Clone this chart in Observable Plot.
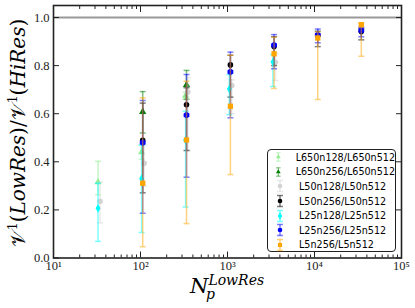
<!DOCTYPE html>
<html><head><meta charset="utf-8">
<script src="https://cdn.jsdelivr.net/npm/d3@7"></script>
<script src="https://cdn.jsdelivr.net/npm/@observablehq/plot@0.6"></script>
<style>
body{margin:0;background:#fff;}
#wrap{position:relative;width:415px;height:308px;}
#legend{position:absolute;left:267px;top:149px;width:127px;height:101px;border:1.5px solid #222;border-radius:4px;background:#fff;font-family:"DejaVu Sans",sans-serif;font-size:9.6px;color:#000;padding-top:0px;}
.row{display:flex;align-items:center;height:14.6px;}
.row svg{margin-left:5px;margin-right:12px;}
</style></head><body><div id="wrap"></div>
<script>
// ---- data ----
const seriesNames = ["L650n128/L650n512","L650n256/L650n512","L50n128/L50n512","L50n256/L50n512","L25n128/L25n512","L25n256/L25n512","L5n256/L5n512"];
const seriesColors = ["#90ee90","#008000","#d3d3d3","#000000","#00ffff","#0000ff","#ffa500"];
const seriesSymbols = ["triangle","triangle","circle","circle","diamond","hexagon","square"];

const np_L650n128 = [32.5, 103, 330];
const v_L650n128  = [0.315, 0.44, 0.675];
const lo_L650n128 = [0.263, 0.41, 0.66];
const hi_L650n128 = [0.402, 0.47, 0.69];

const np_L650n256 = [106, 338];
const v_L650n256  = [0.608, 0.72];
const lo_L650n256 = [0.52, 0.66];
const hi_L650n256 = [0.692, 0.78];

const np_L50n128 = [34.2, 110, 350, 1120, 3550];
const v_L50n128  = [0.236, 0.394, 0.69, 0.717, 0.814];
const lo_L50n128 = [0.146, 0.30, 0.447, 0.60, 0.738];
const hi_L50n128 = [0.315, 0.47, 0.75, 0.741, 0.85];

const np_L50n256 = [106, 338, 1080, 3430, 10900, 34500];
const v_L50n256  = [0.489, 0.637, 0.803, 0.88, 0.925, 0.942];
const lo_L50n256 = [0.271, 0.447, 0.669, 0.80, 0.879, 0.907];
const hi_L50n256 = [0.644, 0.708, 0.843, 0.92, 0.943, 0.955];

const np_L25n128 = [32.5, 103, 330, 1050, 3330];
const v_L25n128  = [0.207, 0.33, 0.49, 0.703, 0.815];
const lo_L25n128 = [0.069, 0.106, 0.212, 0.596, 0.713];
const hi_L25n128 = [0.311, 0.47, 0.61, 0.763, 0.846];

const np_L25n256 = [106, 338, 1080, 3430, 10900, 34500];
const v_L25n256  = [0.48, 0.594, 0.774, 0.885, 0.928, 0.946];
const lo_L25n256 = [0.186, 0.336, 0.583, 0.787, 0.895, 0.92];
const hi_L25n256 = [0.655, 0.763, 0.856, 0.929, 0.952, 0.96];

const np_L5n256 = [106, 338, 1080, 3430, 10900, 34500];
const v_L5n256  = [0.311, 0.491, 0.631, 0.849, 0.915, 0.97];
const lo_L5n256 = [0.047, 0.143, 0.347, 0.705, 0.659, 0.839];
const hi_L5n256 = [0.666, 0.735, 0.843, 0.918, 0.94, 0.978];

const xMajorTicks = [10, 100, 1000, 10000, 100000];
const xTickLabels = ["10¹","10²","10³","10⁴","10⁵"];
const yTicks = [0, 0.2, 0.4, 0.6, 0.8, 1.0];
const yTickLabels = ["0.0","0.2","0.4","0.6","0.8","1.0"];

// ---- build table ----
const seriesArrays = [
  [np_L650n128, v_L650n128, lo_L650n128, hi_L650n128],
  [np_L650n256, v_L650n256, lo_L650n256, hi_L650n256],
  [np_L50n128, v_L50n128, lo_L50n128, hi_L50n128],
  [np_L50n256, v_L50n256, lo_L50n256, hi_L50n256],
  [np_L25n128, v_L25n128, lo_L25n128, hi_L25n128],
  [np_L25n256, v_L25n256, lo_L25n256, hi_L25n256],
  [np_L5n256, v_L5n256, lo_L5n256, hi_L5n256]
];
const rows = [];
seriesArrays.forEach((a, si) => {
  a[0].forEach((x, i) => rows.push({s: seriesNames[si], si, x, v: a[1][i], lo: a[2][i], hi: a[3][i]}));
});

const minorTicks = [];
for (let e = 1; e < 5; e++) for (let m = 2; m < 10; m++) minorTicks.push(m * Math.pow(10, e));

const capSymbol = {draw(ctx) { ctx.moveTo(-3, 0); ctx.lineTo(3, 0); }};
const symR = {triangle: 2.7, circle: 2.8, diamond: 2.6, hexagon: 2.9, square: 3.0};

const marks = [
  Plot.ruleY([1], {stroke: "#999", strokeWidth: 2}),
];
seriesNames.forEach((name, si) => {
  const d = rows.filter(r => r.si === si);
  const c = seriesColors[si];
  marks.push(Plot.ruleX(d, {x: "x", y1: "lo", y2: "hi", stroke: c, strokeOpacity: 0.5, strokeWidth: 1.5}));
  marks.push(Plot.dot(d, {x: "x", y: "lo", symbol: capSymbol, fill: "none", stroke: c, strokeOpacity: 0.5, strokeWidth: 1.5}));
  marks.push(Plot.dot(d, {x: "x", y: "hi", symbol: capSymbol, fill: "none", stroke: c, strokeOpacity: 0.5, strokeWidth: 1.5}));
  marks.push(Plot.dot(d, {x: "x", y: "v", symbol: seriesSymbols[si], fill: c, stroke: "none", r: symR[seriesSymbols[si]]}));
});

const blank = () => "";
const ttf = (labels, ticks) => (t) => labels[ticks.findIndex(k => Math.abs(k - t) < 1e-9)];
marks.push(
  Plot.axisX({anchor: "bottom", ticks: xMajorTicks, tickSize: -6, tickFormat: blank, stroke: "#222"}),
  Plot.axisX({anchor: "top", ticks: xMajorTicks, tickSize: -6, tickFormat: blank, stroke: "#222"}),
  Plot.axisX({anchor: "bottom", ticks: minorTicks, tickSize: -3, tickFormat: blank, stroke: "#222"}),
  Plot.axisX({anchor: "top", ticks: minorTicks, tickSize: -3, tickFormat: blank, stroke: "#222"}),
  Plot.axisY({anchor: "left", ticks: yTicks, tickSize: -6, tickFormat: blank, stroke: "#222"}),
  Plot.axisY({anchor: "right", ticks: yTicks, tickSize: -6, tickFormat: blank, stroke: "#222"}),
  Plot.axisX({anchor: "bottom", ticks: xMajorTicks, tickSize: 0, tickPadding: 3, tickFormat: ttf(xTickLabels, xMajorTicks), fontSize: 12.5, fill: "#222"}),
  Plot.axisY({anchor: "left", ticks: yTicks, tickSize: 0, tickPadding: 4, tickFormat: ttf(yTickLabels, yTicks), fontSize: 12.5, fill: "#222"}),
  Plot.frame({stroke: "#222", strokeWidth: 1.6})
);

const chart = Plot.plot({
  width: 415, height: 308,
  marginLeft: 53, marginRight: 14, marginTop: 5, marginBottom: 50.5,
  style: {fontFamily: "'Liberation Serif', serif", background: "#fff"},
  x: {type: "log", domain: [10, 100000], label: null},
  y: {domain: [0, 1.05], label: null},
  marks
});
document.getElementById("wrap").appendChild(chart);

// axis titles (math-like text)
const svg = d3.select(chart);
const yl = svg.append("text")
  .attr("transform", "translate(25,133) rotate(-90)")
  .attr("text-anchor", "middle")
  .attr("font-family", "'DejaVu Serif', serif")
  .attr("font-size", 20).attr("fill", "#000");
const ylParts = [["𝒱", "normal", 0], ["1", "normal", -8, 12.5], ["(", "normal", 8], ["LowRes", "italic", 0], [")/", "normal", 0], ["𝒱", "normal", 0], ["1", "normal", -8, 12.5], ["(", "normal", 8], ["HiRes", "italic", 0], [")", "normal", 0]];
ylParts.forEach(([t, st, dy, fs]) => {
  const ts = yl.append("tspan").text(t).attr("font-style", st);
  if (dy) ts.attr("dy", dy);
  if (fs) ts.attr("font-size", fs);
});
const xl = svg.append("text")
  .attr("x", 190).attr("y", 293).attr("text-anchor", "start")
  .attr("font-family", "'DejaVu Serif', serif").attr("fill", "#000");
xl.append("tspan").text("N").attr("font-style", "italic").attr("font-size", 21);
xl.append("tspan").text("LowRes").attr("font-style", "italic").attr("font-size", 14).attr("dy", -8);
xl.append("tspan").text("p").attr("font-style", "italic").attr("font-size", 14).attr("x", 206).attr("dy", 14);

// legend
const leg = document.createElement("div");
leg.id = "legend";
seriesNames.forEach((name, si) => {
  const row = document.createElement("div");
  row.className = "row";
  const c = seriesColors[si];
  const sym = d3.symbol(d3["symbol" + {triangle: "Triangle", circle: "Circle", diamond: "Diamond", hexagon: "Circle", square: "Square"}[seriesSymbols[si]]], 30)();
  row.innerHTML = `<svg width="14" height="14" viewBox="-7 -7 14 14">
    <line x1="0" x2="0" y1="-5.5" y2="5.5" stroke="${c}" stroke-opacity="0.5" stroke-width="1.5"/>
    <line x1="-3" x2="3" y1="-5.5" y2="-5.5" stroke="${c}" stroke-opacity="0.5" stroke-width="1.5"/>
    <line x1="-3" x2="3" y1="5.5" y2="5.5" stroke="${c}" stroke-opacity="0.5" stroke-width="1.5"/>
    <path d="${sym}" fill="${c}" transform="scale(0.75)"/></svg><span>${name}</span>`;
  leg.appendChild(row);
});
document.getElementById("wrap").appendChild(leg);
</script></body></html>
